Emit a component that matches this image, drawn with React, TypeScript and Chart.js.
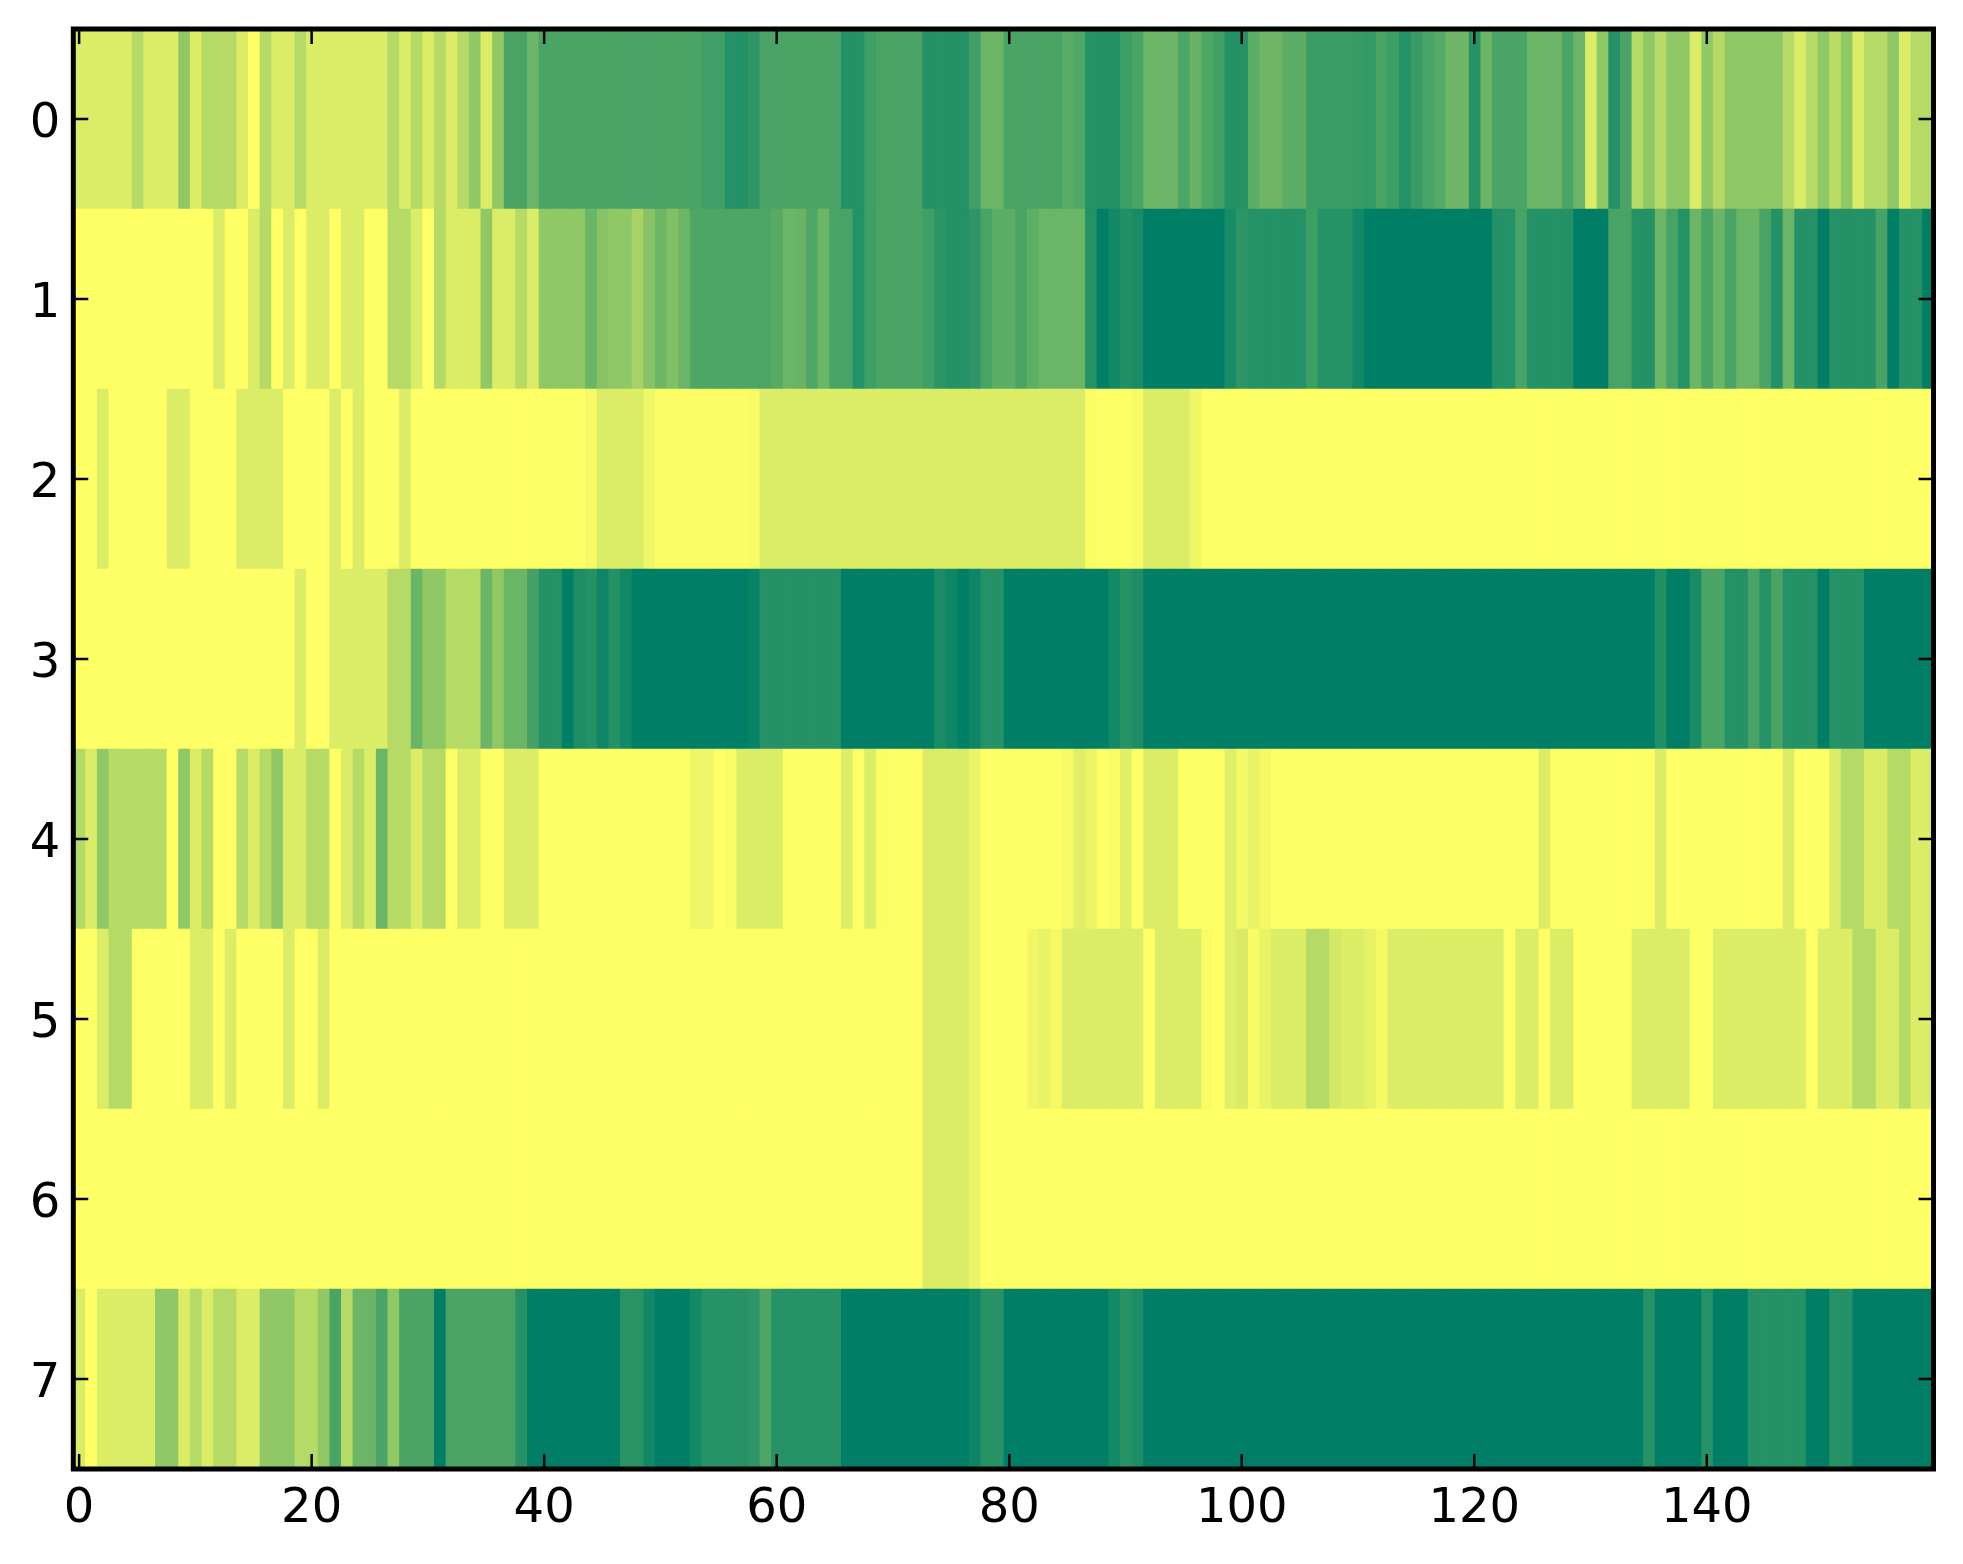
import React, { useEffect, useRef } from "react";
import { Chart, registerables } from "chart.js";

Chart.register(...registerables);

const rowLabels = ["0", "1", "2", "3", "4", "5", "6", "7"];
const xTickValues = [0, 20, 40, 60, 80, 100, 120, 140];

// Cell intensities in percent of the colour range; each line holds ten columns.
const row0 = [
  14, 14, 14, 14, 14, 29, 14, 14, 14, 43,
  14, 29, 29, 29, 14, 0, 29, 14, 14, 29,
  14, 14, 14, 14, 14, 14, 14, 29, 14, 29,
  14, 29, 14, 29, 43, 14, 43, 71, 71, 58,
  71, 71, 71, 71, 71, 71, 71, 71, 71, 71,
  71, 71, 71, 71, 75, 75, 86, 86, 82, 71,
  71, 71, 71, 71, 71, 71, 86, 86, 75, 71,
  71, 71, 71, 86, 86, 86, 86, 75, 58, 58,
  71, 71, 71, 71, 71, 65, 69, 86, 86, 86,
  76, 71, 58, 58, 58, 70, 59, 69, 74, 86,
  86, 64, 57, 57, 64, 64, 77, 77, 77, 77,
  78, 80, 72, 76, 86, 78, 71, 66, 57, 57,
  85, 58, 71, 71, 71, 58, 58, 58, 71, 58,
  14, 43, 86, 71, 29, 43, 29, 43, 43, 14,
  43, 29, 43, 43, 43, 43, 43, 29, 14, 29,
  43, 27, 43, 14, 29, 29, 43, 14, 29, 29,
];
const row1 = [
  0, 0, 0, 0, 0, 0, 0, 0, 0, 0,
  0, 0, 14, 0, 0, 14, 29, 0, 14, 0,
  14, 14, 0, 14, 14, 0, 0, 29, 29, 14,
  0, 29, 14, 14, 14, 43, 14, 14, 29, 14,
  43, 43, 43, 43, 58, 47, 43, 43, 35, 47,
  57, 49, 58, 70, 70, 70, 70, 70, 70, 70,
  66, 58, 59, 69, 58, 72, 72, 86, 76, 71,
  71, 71, 71, 75, 82, 86, 86, 82, 72, 64,
  64, 71, 63, 58, 58, 58, 58, 86, 100, 93,
  87, 90, 100, 100, 100, 100, 100, 100, 100, 90,
  82, 86, 86, 86, 86, 86, 76, 85, 85, 85,
  93, 100, 100, 100, 100, 100, 100, 100, 100, 100,
  100, 100, 86, 86, 72, 86, 86, 86, 86, 100,
  100, 100, 72, 72, 86, 86, 58, 72, 86, 58,
  71, 58, 71, 58, 58, 71, 86, 58, 86, 86,
  100, 86, 86, 86, 86, 72, 100, 86, 86, 100,
];
const row2 = [
  0, 0, 14, 0, 0, 0, 0, 0, 14, 14,
  0, 0, 0, 0, 14, 14, 14, 14, 0, 0,
  0, 0, 14, 0, 14, 0, 0, 0, 14, 0,
  0, 0, 0, 0, 0, 0, 0, 0, 0, 0,
  0, 0, 0, 0, 4, 14, 14, 14, 14, 6,
  1, 1, 1, 1, 1, 1, 1, 1, 3, 14,
  14, 14, 14, 14, 14, 14, 14, 14, 14, 14,
  14, 14, 14, 14, 14, 14, 14, 14, 14, 14,
  14, 14, 14, 14, 14, 14, 14, 1, 0, 0,
  0, 3, 14, 14, 14, 14, 6, 0, 0, 0,
  0, 0, 0, 0, 0, 0, 0, 0, 0, 0,
  0, 0, 0, 0, 0, 0, 0, 0, 0, 0,
  0, 0, 0, 0, 0, 0, 0, 0, 0, 0,
  0, 0, 0, 0, 0, 0, 0, 0, 0, 0,
  0, 0, 0, 0, 0, 0, 0, 0, 0, 0,
  0, 0, 0, 0, 0, 0, 0, 0, 0, 0,
];
const row3 = [
  0, 0, 0, 0, 0, 0, 0, 0, 0, 0,
  0, 0, 0, 0, 0, 0, 0, 0, 0, 14,
  0, 0, 14, 14, 14, 14, 14, 29, 29, 58,
  43, 43, 29, 29, 29, 58, 43, 58, 58, 73,
  86, 86, 100, 88, 86, 95, 86, 93, 100, 100,
  100, 100, 100, 100, 100, 100, 100, 100, 97, 86,
  86, 86, 86, 86, 86, 86, 100, 100, 100, 100,
  100, 100, 100, 100, 90, 94, 100, 95, 86, 86,
  100, 100, 100, 100, 100, 100, 100, 100, 100, 92,
  85, 88, 100, 100, 100, 100, 100, 100, 100, 100,
  100, 100, 100, 100, 100, 100, 100, 100, 100, 100,
  100, 100, 100, 100, 100, 100, 100, 100, 100, 100,
  100, 100, 100, 100, 100, 100, 100, 100, 100, 100,
  100, 100, 100, 100, 100, 100, 87, 100, 100, 90,
  71, 71, 86, 86, 72, 86, 71, 86, 86, 86,
  100, 86, 86, 86, 100, 100, 100, 100, 100, 100,
];
const row4 = [
  29, 14, 43, 29, 29, 29, 29, 29, 0, 43,
  14, 29, 0, 0, 29, 14, 29, 43, 14, 14,
  29, 29, 0, 14, 29, 14, 58, 29, 29, 14,
  29, 29, 0, 14, 14, 0, 0, 14, 14, 14,
  0, 0, 0, 0, 0, 0, 0, 0, 0, 0,
  0, 0, 0, 7, 7, 0, 2, 14, 14, 14,
  14, 0, 0, 0, 0, 0, 14, 0, 14, 2,
  0, 0, 0, 14, 14, 14, 14, 8, 0, 0,
  0, 0, 0, 0, 0, 3, 12, 8, 0, 2,
  12, 0, 14, 14, 14, 0, 0, 0, 0, 12,
  4, 9, 4, 0, 0, 0, 0, 0, 0, 0,
  0, 0, 0, 0, 0, 0, 0, 0, 0, 0,
  0, 0, 0, 0, 0, 0, 14, 0, 0, 0,
  0, 0, 0, 0, 0, 0, 14, 0, 0, 0,
  0, 0, 0, 0, 0, 0, 0, 14, 0, 0,
  0, 14, 29, 29, 14, 14, 29, 29, 14, 14,
];
const row5 = [
  0, 0, 14, 29, 29, 0, 0, 0, 0, 0,
  14, 14, 0, 14, 0, 0, 0, 0, 14, 0,
  0, 14, 0, 0, 0, 0, 0, 0, 0, 0,
  0, 0, 0, 0, 0, 0, 0, 0, 0, 0,
  0, 0, 0, 0, 0, 0, 0, 0, 0, 0,
  0, 0, 0, 0, 0, 0, 0, 0, 0, 0,
  0, 0, 0, 0, 0, 0, 0, 0, 0, 0,
  0, 0, 0, 14, 14, 14, 14, 8, 0, 0,
  0, 0, 6, 9, 4, 14, 14, 14, 14, 14,
  14, 14, 0, 14, 14, 14, 14, 2, 0, 12,
  15, 3, 9, 14, 14, 14, 29, 29, 17, 14,
  14, 10, 4, 14, 14, 14, 14, 14, 14, 14,
  14, 14, 14, 0, 14, 14, 0, 14, 14, 0,
  0, 0, 0, 0, 14, 14, 14, 14, 14, 0,
  0, 14, 14, 14, 14, 14, 14, 14, 14, 0,
  14, 14, 14, 29, 29, 14, 14, 29, 14, 14,
];
const row6 = [
  0, 0, 0, 0, 0, 0, 0, 0, 0, 0,
  0, 0, 0, 0, 0, 0, 0, 0, 0, 0,
  0, 0, 0, 0, 0, 0, 0, 0, 0, 0,
  0, 0, 0, 0, 0, 0, 0, 0, 0, 0,
  0, 0, 0, 0, 0, 0, 0, 0, 0, 0,
  0, 0, 0, 0, 0, 0, 0, 0, 0, 0,
  0, 0, 0, 0, 0, 0, 0, 0, 0, 0,
  0, 0, 0, 14, 14, 14, 14, 8, 0, 0,
  0, 0, 0, 0, 0, 0, 0, 0, 0, 0,
  0, 0, 0, 0, 0, 0, 0, 0, 0, 0,
  0, 0, 0, 0, 0, 0, 0, 0, 0, 0,
  0, 0, 0, 0, 0, 0, 0, 0, 0, 0,
  0, 0, 0, 0, 0, 0, 0, 0, 0, 0,
  0, 0, 0, 0, 0, 0, 0, 0, 0, 0,
  0, 0, 0, 0, 0, 0, 0, 0, 0, 0,
  0, 0, 0, 0, 0, 0, 0, 0, 0, 0,
];
const row7 = [
  14, 0, 14, 14, 14, 14, 14, 43, 43, 14,
  29, 14, 29, 29, 14, 14, 43, 43, 43, 29,
  29, 43, 71, 29, 58, 58, 71, 43, 71, 71,
  71, 100, 71, 71, 71, 71, 71, 71, 86, 100,
  100, 100, 100, 100, 100, 100, 100, 84, 84, 93,
  100, 100, 100, 92, 85, 85, 85, 85, 82, 70,
  85, 85, 85, 85, 85, 85, 100, 100, 100, 100,
  100, 100, 100, 100, 100, 100, 100, 95, 85, 85,
  100, 100, 100, 100, 100, 100, 100, 100, 100, 92,
  85, 89, 100, 100, 100, 100, 100, 100, 100, 100,
  100, 100, 100, 100, 100, 100, 100, 100, 100, 100,
  100, 100, 100, 100, 100, 100, 100, 100, 100, 100,
  100, 100, 100, 100, 100, 100, 100, 100, 100, 100,
  100, 100, 100, 100, 100, 86, 100, 100, 100, 100,
  86, 100, 100, 100, 86, 86, 86, 86, 86, 100,
  100, 86, 86, 100, 100, 100, 100, 100, 100, 100,
];

const rows = [row0, row1, row2, row3, row4, row5, row6, row7];

// The reversed "summer" ramp: pale yellow at 0, deep green at 100.
function rampColor(percent: number): string {
  const v = percent / 100;
  return `rgb(${Math.round(255 * (1 - v))},${Math.floor(255 * (1 - 0.5 * v))},102)`;
}

const frameAndTicks = {
  id: "frameAndTicks",
  afterDraw(chart: any) {
    const { ctx, chartArea: a, scales } = chart;
    const tickLength = 15;
    ctx.save();
    ctx.strokeStyle = "#000";
    ctx.lineWidth = 2.5;
    ctx.beginPath();
    scales.x.ticks.forEach((_: any, i: number) => {
      const x = scales.x.getPixelForTick(i);
      ctx.moveTo(x, a.top);
      ctx.lineTo(x, a.top + tickLength);
      ctx.moveTo(x, a.bottom);
      ctx.lineTo(x, a.bottom - tickLength);
    });
    scales.y.ticks.forEach((_: any, i: number) => {
      const y = scales.y.getPixelForTick(i);
      ctx.moveTo(a.left, y);
      ctx.lineTo(a.left + tickLength, y);
      ctx.moveTo(a.right, y);
      ctx.lineTo(a.right - tickLength, y);
    });
    ctx.stroke();
    ctx.lineWidth = 5;
    ctx.strokeRect(a.left, a.top, a.right - a.left, a.bottom - a.top);
    ctx.restore();
  },
};

export default function App() {
  const ref = useRef<HTMLCanvasElement | null>(null);

  useEffect(() => {
    document.body.style.margin = "0";
    document.body.style.background = "#fff";
    const columnCount = row0.length;
    const datasets = Array.from({ length: columnCount }, (_, c) => ({
      // Each bar runs slightly under its left neighbour so no seam shows.
      data: rows.map(() => [c - 0.6, c + 0.5]),
      backgroundColor: rows.map((r) => rampColor(r[c])),
      borderWidth: 0,
      barPercentage: 1,
      categoryPercentage: 1,
      grouped: false,
    }));
    const font = { family: "'DejaVu Sans'", size: 48 };
    const chart = new Chart(ref.current as HTMLCanvasElement, {
      type: "bar",
      data: { labels: rowLabels, datasets: datasets as any },
      plugins: [frameAndTicks],
      options: {
        indexAxis: "y",
        animation: false,
        responsive: false,
        devicePixelRatio: 1,
        layout: { padding: { top: 29, right: 29.5, left: 0, bottom: 0 } },
        plugins: { legend: { display: false }, tooltip: { enabled: false } },
        scales: {
          x: {
            type: "linear",
            min: -0.5,
            max: 159.5,
            grid: { display: false, drawTicks: false },
            border: { display: false },
            afterBuildTicks: (s: any) => {
              s.ticks = xTickValues.map((value) => ({ value }));
            },
            afterFit: (s: any) => {
              s.height = 95;
              s.paddingLeft = 0;
              s.paddingRight = 0;
            },
            ticks: { color: "#000", font, padding: 12, maxRotation: 0, autoSkip: false },
          },
          y: {
            type: "category",
            grid: { display: false, drawTicks: false },
            border: { display: false },
            afterFit: (s: any) => {
              s.width = 73.3;
              s.paddingTop = 0;
              s.paddingBottom = 0;
            },
            afterUpdate: (s: any) => {
              // Digit centres sit a little below the em-box middle in the reference.
              const compute = s._computeLabelItems.bind(s);
              s._computeLabelItems = (area: any) =>
                compute(area).map((item: any) => ({
                  ...item,
                  options: {
                    ...item.options,
                    translation: [item.options.translation[0], item.options.translation[1] + 3],
                  },
                }));
              s._labelItems = null;
            },
            ticks: { color: "#000", font, padding: 13, autoSkip: false },
          },
        },
      } as any,
    });
    return () => chart.destroy();
  }, []);

  return <canvas ref={ref} width={1963} height={1564} style={{ display: "block" }} />;
}
